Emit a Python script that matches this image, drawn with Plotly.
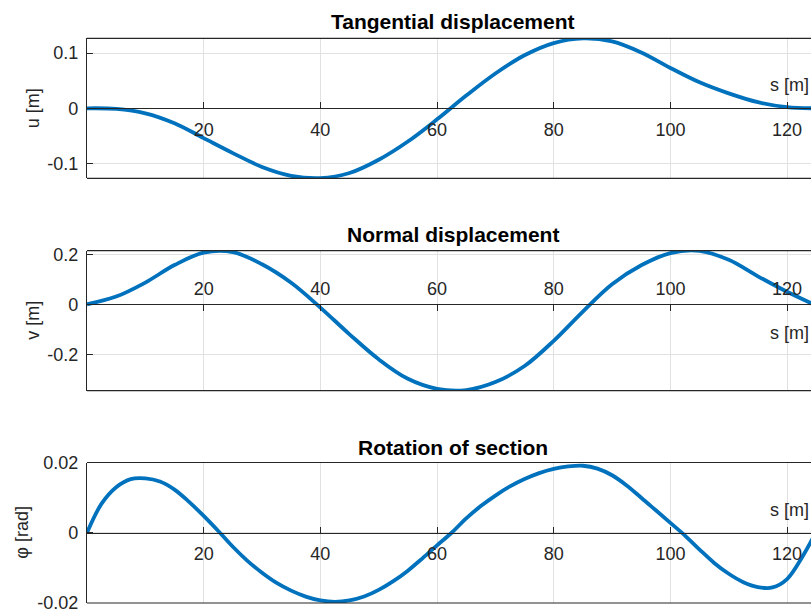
import plotly.graph_objects as go

# Tangential displacement u(s)
s_u = [0, 5, 10, 15, 20, 25, 30, 35, 40, 45, 50, 55, 60, 65, 70, 75, 80, 85,
       90, 95, 100, 105, 110, 115, 120, 125]
u = [0, -0.001, -0.009, -0.027, -0.054, -0.081, -0.106, -0.122, -0.1262, -0.117,
     -0.093, -0.060, -0.020, 0.023, 0.063, 0.096, 0.118, 0.1264,
     0.121, 0.101, 0.073, 0.047, 0.027, 0.011, 0.002, 0.0]

# Normal displacement v(s)
s_v = [0, 5, 10, 15, 20, 25, 30, 35, 40, 45, 50, 55, 60, 65, 70, 75, 80, 85,
       90, 95, 100, 105, 110, 115, 120, 125]
v = [0, 0.031, 0.087, 0.157, 0.207, 0.209, 0.160, 0.086, -0.013, -0.120,
     -0.220, -0.298, -0.338, -0.343, -0.311, -0.247, -0.146, -0.029,
     0.080, 0.156, 0.205, 0.2135, 0.178, 0.112, 0.050, -0.005]

# Rotation of section phi(s)
s_p = [0, 2.5, 5, 7.5, 10, 12.5, 15, 17.5, 20, 22.5, 25, 27.5, 30, 32.5, 35, 37.5,
       40, 42.5, 45, 47.5, 50, 52.5, 55, 57.5, 60, 62.5, 65, 67.5, 70, 72.5, 75,
       77.5, 80, 82.5, 85, 87.5, 90, 92.5, 95, 97.5, 100, 102.5, 105, 107.5, 110,
       112.5, 115, 117.5, 120, 122.5, 125]
phi = [0, 0.0083, 0.0130, 0.0153, 0.0155, 0.0146, 0.0123, 0.0088, 0.0048, 0.0005,
       -0.0040, -0.0080, -0.0114, -0.0143, -0.0165, -0.0182, -0.0193, -0.0197,
       -0.0193, -0.0182, -0.0163, -0.0138, -0.0108, -0.0073, -0.0036, 0.0000,
       0.0041, 0.0076, 0.0106, 0.0132, 0.0153, 0.0170, 0.0182, 0.0189, 0.0191,
       0.0183, 0.0164, 0.0135, 0.0100, 0.0064, 0.0028, -0.0008, -0.0048, -0.0086,
       -0.0117, -0.0141, -0.0155, -0.0156, -0.0132, -0.0072, 0.0003]

x_ticks = [20, 40, 60, 80, 100, 120]
x_tick_text = ["20", "40", "60", "80", "100", "120"]
u_ticks = [-0.1, 0, 0.1]
u_tick_text = ["-0.1", "0", "0.1"]
v_ticks = [-0.2, 0, 0.2]
v_tick_text = ["-0.2", "0", "0.2"]
p_ticks = [-0.02, 0, 0.02]
p_tick_text = ["-0.02", "0", "0.02"]

W, H = 811, 614
ML, MR, MT, MB = 87, 0, 38, 11
PW, PH = W - ML - MR, H - MT - MB


def px_x(px):
    return (px - ML) / PW


def px_y(py):
    return 1 - (py - MT) / PH


FONT = "Liberation Sans, Arial, Helvetica, sans-serif"
INK = "#262626"
GRID = "#e1e1e1"
BLUE = "#0072BD"

panels = [
    dict(s=s_u, y=u, rng=[-0.1266, 0.1266], top=38.3, bot=178.3, ticks=u_ticks,
         ttext=u_tick_text, side="bottom", standoff=5, title="Tangential displacement",
         ylab="u [m]", ylab_x=33, title_y=21.5, slab_y=85),
    dict(s=s_v, y=v, rng=[-0.3456, 0.2144], top=250.7, bot=390.7, ticks=v_ticks,
         ttext=v_tick_text, side="top", standoff=2, title="Normal displacement",
         ylab="v [m]", ylab_x=33, title_y=234, slab_y=333),
    dict(s=s_p, y=phi, rng=[-0.02003, 0.02003], top=462.5, bot=603.0, ticks=p_ticks,
         ttext=p_tick_text, side="bottom", standoff=5, title="Rotation of section",
         ylab="φ [rad]", ylab_x=22, title_y=447.5, slab_y=510),
]

fig = go.Figure()
annotations = []
shapes = []

for i, p in enumerate(panels, start=1):
    xa = "x" if i == 1 else f"x{i}"
    ya = "y" if i == 1 else f"y{i}"
    d0, d1 = px_y(p["bot"]), px_y(p["top"])
    lo, hi = p["rng"]
    zero_pos = d0 + (0 - lo) / (hi - lo) * (d1 - d0)

    fig.add_trace(go.Scatter(
        x=p["s"], y=p["y"], mode="lines", xaxis=xa, yaxis=ya,
        line=dict(color=BLUE, width=3.8, shape="spline", smoothing=1.0),
        showlegend=False, hoverinfo="skip"))

    fig.layout[f"xaxis{'' if i == 1 else i}"] = dict(
        range=[0, 124.1], domain=[0, 1], anchor="free", position=zero_pos,
        side=p["side"], tickvals=x_ticks, ticktext=x_tick_text,
        ticks="inside", ticklen=6, tickwidth=1, tickcolor=INK,
        showline=True, linecolor=INK, linewidth=1.2,
        showgrid=True, gridcolor=GRID, gridwidth=1, zeroline=False,
        tickfont=dict(family=FONT, size=18, color=INK),
        ticklabelstandoff=p["standoff"], fixedrange=True)
    fig.layout[f"yaxis{'' if i == 1 else i}"] = dict(
        range=p["rng"], domain=[d0, d1], anchor=xa,
        tickvals=p["ticks"], ticktext=p["ttext"],
        ticks="inside", ticklen=6, tickwidth=1, tickcolor=INK,
        showline=True, linecolor=INK, linewidth=1.2, mirror=False,
        showgrid=True, gridcolor=GRID, gridwidth=1, zeroline=False,
        tickfont=dict(family=FONT, size=18, color=INK),
        ticklabelstandoff=4, fixedrange=True)

    # top and bottom edges of the axes box
    for yy in (0, 1):
        shapes.append(dict(type="line", xref=f"{xa} domain", yref=f"{ya} domain",
                           x0=0, x1=1, y0=yy, y1=yy,
                           line=dict(color=INK, width=1.2)))

    annotations.append(dict(
        text=f"<b>{p['title']}</b>", xref="paper", yref="paper",
        x=px_x(453), y=px_y(p["title_y"]), xanchor="center", yanchor="middle",
        showarrow=False, font=dict(family=FONT, size=21, color="#000000")))
    annotations.append(dict(
        text=p["ylab"], xref="paper", yref="paper", textangle=-90,
        x=px_x(p["ylab_x"]), y=px_y((p["top"] + p["bot"]) / 2),
        xanchor="center", yanchor="middle", showarrow=False,
        font=dict(family=FONT, size=18, color=INK)))
    annotations.append(dict(
        text="s [m]", xref="paper", yref="paper",
        x=px_x(811), y=px_y(p["slab_y"]), xanchor="right", yanchor="middle",
        showarrow=False, font=dict(family=FONT, size=18, color=INK)))

fig.update_layout(
    width=W, height=H,
    margin=dict(l=ML, r=MR, t=MT, b=MB),
    paper_bgcolor="white", plot_bgcolor="white",
    annotations=annotations, shapes=shapes,
    showlegend=False,
)

fig.write_html("out.html", config={"displayModeBar": False})
